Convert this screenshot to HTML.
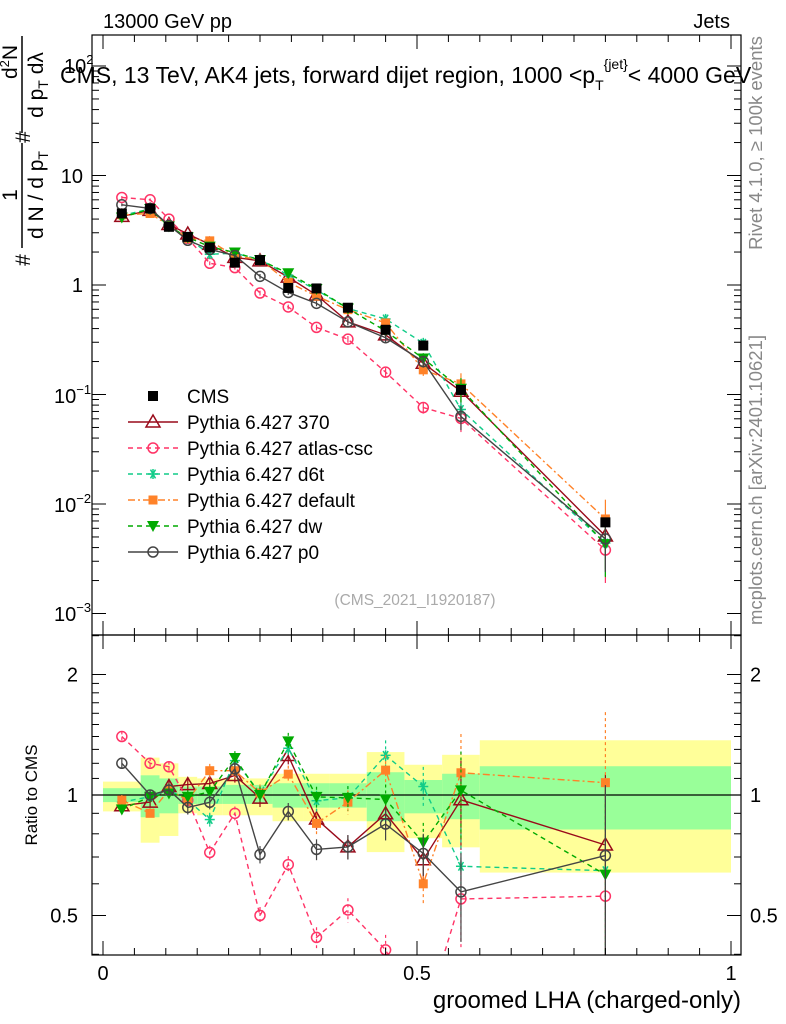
<!DOCTYPE html>
<html><head><meta charset="utf-8"><style>
body{margin:0;background:#fff;}
svg{display:block;font-family:"Liberation Sans",Arial,sans-serif;}
</style></head><body>
<svg id="c" width="786" height="1024" viewBox="0 0 786 1024"></svg>
<script>
const edges=[0,0.06,0.09,0.12,0.15,0.19,0.23,0.27,0.32,0.36,0.42,0.48,0.54,0.6,1.0];
const cms=[4.5,5.0,3.4,2.75,2.2,1.6,1.69,0.94,0.93,0.62,0.39,0.28,0.11,0.0068];
const p370=[4.23,4.8,3.57,2.92,2.35,1.79,1.66,1.18,0.81,0.46,0.35,0.193,0.107,0.0051];
const atlas=[6.3,6.0,4.0,2.67,1.58,1.44,0.845,0.63,0.41,0.32,0.16,0.076,0.0605,0.0038];
const d6t=[4.32,4.95,3.5,2.67,1.91,1.95,1.71,1.23,0.90,0.61,0.49,0.294,0.073,0.0044];
const deflt=[4.37,4.5,3.5,2.67,2.53,1.84,1.71,1.06,0.79,0.595,0.45,0.168,0.125,0.0073];
const dw=[4.14,4.95,3.43,2.72,2.24,1.98,1.69,1.28,0.92,0.61,0.38,0.213,0.113,0.0043];
const p0=[5.4,5.0,3.5,2.56,2.11,1.86,1.2,0.855,0.68,0.46,0.33,0.2,0.063,0.0048];
const mcErr=[0.03,0.03,0.03,0.04,0.04,0.04,0.05,0.05,0.06,0.07,0.09,0.12,0.25,0.5];
const totUp=[1.08,1.24,1.20,1.11,1.10,1.10,1.10,1.13,1.13,1.13,1.28,1.19,1.26,1.37];
const totDn=[0.91,0.76,0.79,0.90,0.89,0.89,0.89,0.86,0.86,0.86,0.72,0.78,0.74,0.64];
const statUp=[1.04,1.12,1.10,1.05,1.05,1.06,1.06,1.07,1.07,1.07,1.14,1.09,1.13,1.18];
const statDn=[0.96,0.88,0.90,0.95,0.95,0.95,0.95,0.93,0.93,0.93,0.86,0.90,0.87,0.82];

const S=document.getElementById('c');const NS='http://www.w3.org/2000/svg';
function mk(t,a,p){const e=document.createElementNS(NS,t);for(const k in a)e.setAttribute(k,a[k]);(p||S).appendChild(e);return e;}
const L=92,R=741,T=35,M=635,B=955;
const X=v=>103+628*v;
const Y=v=>285-109.5*Math.log10(v);
const YR=r=>795-120.5*Math.log2(r);
const clipR=mk('clipPath',{id:'cr'});mk('rect',{x:L,y:M,width:R-L,height:B-M},clipR);
const clipM=mk('clipPath',{id:'cm'});mk('rect',{x:L,y:T,width:R-L,height:M-T},clipM);
const mids=cms.map((_,i)=>(edges[i]+edges[i+1])/2);

const gB=mk('g',{'clip-path':'url(#cr)'});

for(let i=0;i<cms.length;i++){
 const r1=mk('rect',{x:X(edges[i]),y:YR(totUp[i]),width:X(edges[i+1])-X(edges[i]),height:YR(totDn[i])-YR(totUp[i]),fill:'#ffff99'},gB);
 
 const r2=mk('rect',{x:X(edges[i]),y:YR(statUp[i]),width:X(edges[i+1])-X(edges[i]),height:YR(statDn[i])-YR(statUp[i]),fill:'#99ff99'},gB);
 
}
mk('line',{x1:L,x2:R,y1:YR(1),y2:YR(1),stroke:'#000','stroke-width':1.2});

function marker(g,type,x,y,col){
 if(type==='sq')mk('rect',{x:x-5,y:y-5,width:10,height:10,fill:col},g);
 else if(type==='fsq')mk('rect',{x:x-4.5,y:y-4.5,width:9,height:9,fill:col},g);
 else if(type==='tri')mk('polygon',{points:`${x},${y-7} ${x-7},${y+5} ${x+7},${y+5}`,fill:'none',stroke:col,'stroke-width':1.5},g);
 else if(type==='tdn')mk('polygon',{points:`${x-6},${y-5} ${x+6},${y-5} ${x},${y+6}`,fill:col},g);
 else if(type==='circ')mk('circle',{cx:x,cy:y,r:5,fill:'none',stroke:col,'stroke-width':1.5},g);
 else if(type==='star'){for(const a of [0,60,120])mk('line',{x1:x-5*Math.cos(a*Math.PI/180),y1:y-5*Math.sin(a*Math.PI/180),x2:x+5*Math.cos(a*Math.PI/180),y2:y+5*Math.sin(a*Math.PI/180),stroke:col,'stroke-width':1.5},g);mk('line',{x1:x,y1:y-5,x2:x,y2:y+5,stroke:col,'stroke-width':1.5},g);}
}
const series=[
 {name:'pythia-370',label:'Pythia 6.427 370',d:p370,col:'#990a1a',dash:'',m:'tri'},
 {name:'pythia-atlas-csc',label:'Pythia 6.427 atlas-csc',d:atlas,col:'#ff3366',dash:'5,4',m:'circ'},
 {name:'pythia-d6t',label:'Pythia 6.427 d6t',d:d6t,col:'#11cc88',dash:'5,4',m:'star'},
 {name:'pythia-default',label:'Pythia 6.427 default',d:deflt,col:'#ff8228',dash:'7,3,2,3',m:'fsq'},
 {name:'pythia-dw',label:'Pythia 6.427 dw',d:dw,col:'#00aa00',dash:'5,4',m:'tdn'},
 {name:'pythia-p0',label:'Pythia 6.427 p0',d:p0,col:'#444444',dash:'',m:'circ'}
];
const gm=mk('g',{'clip-path':'url(#cm)'});
series.forEach(s=>{
 const g=mk('g',{},gm);
 
 mk('polyline',{points:s.d.map((v,i)=>X(mids[i])+','+Y(v)).join(' '),fill:'none',stroke:s.col,'stroke-width':1.4,'stroke-dasharray':s.dash},g);
 s.d.forEach((v,i)=>{mk('line',{x1:X(mids[i]),x2:X(mids[i]),y1:Y(v*(1+mcErr[i])),y2:Y(v*Math.max(0.05,1-mcErr[i])),stroke:s.col,'stroke-width':1.2},g);marker(g,s.m,X(mids[i]),Y(v),s.col);});
});
const gc=mk('g',{},gm);

cms.forEach((v,i)=>marker(gc,'sq',X(mids[i]),Y(v),'#000'));
const gr=mk('g',{'clip-path':'url(#cr)'});
series.forEach(s=>{
 const g=mk('g',{},gr);
 
 const rr=s.d.map((v,i)=>v/cms[i]);
 mk('polyline',{points:rr.map((r,i)=>X(mids[i])+','+YR(r)).join(' '),fill:'none',stroke:s.col,'stroke-width':1.4,'stroke-dasharray':s.dash},g);
 rr.forEach((r,i)=>{mk('line',{x1:X(mids[i]),x2:X(mids[i]),y1:YR(r*(1+mcErr[i])),y2:YR(r*Math.max(0.05,1-mcErr[i])),stroke:s.col,'stroke-width':1.2,'stroke-dasharray':s.dash?'3,3':''},g);marker(g,s.m,X(mids[i]),YR(r),s.col);});
});
mk('rect',{x:L,y:T,width:R-L,height:M-T,fill:'none',stroke:'#000','stroke-width':1.2});
mk('rect',{x:L,y:M,width:R-L,height:B-M,fill:'none',stroke:'#000','stroke-width':1.2});
for(let e=-3;e<=2;e++){for(let k=1;k<10;k++){const v=k*Math.pow(10,e);const y=Y(v);if(y<T||y>M)continue;const len=k===1?14:7;
 mk('line',{x1:L,x2:L+len,y1:y,y2:y,stroke:'#000'});mk('line',{x1:R,x2:R-len,y1:y,y2:y,stroke:'#000'});}}
function tl(txt,x,y,anchor,size,name,extra,parent){const t=mk('text',Object.assign({x:x,y:y,'text-anchor':anchor||'start','font-size':size||18},extra||{}),parent);t.innerHTML=txt;return t;}
tl('10<tspan font-size="13" dy="-9">2</tspan>',64,73,'start',20,'y-tick-label');
tl('10',83,183,'end',20,'y-tick-label');
tl('1',83,292,'end',20,'y-tick-label');
tl('10<tspan font-size="13" dy="-9">−1</tspan>',54,403,'start',20,'y-tick-label');
tl('10<tspan font-size="13" dy="-9">−2</tspan>',54,512,'start',20,'y-tick-label');
tl('10<tspan font-size="13" dy="-9">−3</tspan>',54,621,'start',20,'y-tick-label');
for(const r of [0.4,0.5,0.6,0.7,0.8,0.9,1,1.1,1.2,1.3,1.4,1.5,1.6,1.7,1.8,1.9,2,2.5]){const y=YR(r);if(y<M||y>B)continue;const len=[0.5,1,2].includes(r)?14:7;
 mk('line',{x1:L,x2:L+len,y1:y,y2:y,stroke:'#000'});mk('line',{x1:R,x2:R-len,y1:y,y2:y,stroke:'#000'});}
[[2,'2'],[1,'1'],[0.5,'0.5']].forEach(([r,s])=>{tl(s,78,YR(r)+7,'end',20,'ratio-tick-label');tl(s,750,YR(r)+7,'start',20,'ratio-tick-label');});
for(let i=0;i<=20;i++){const v=i*0.05,x=X(v),len=i%10===0?14:7;
 mk('line',{x1:x,x2:x,y1:B,y2:B-len,stroke:'#000'});mk('line',{x1:x,x2:x,y1:M,y2:M+len,stroke:'#000'});mk('line',{x1:x,x2:x,y1:T,y2:T+len,stroke:'#000'});mk('line',{x1:x,x2:x,y1:M,y2:M-len,stroke:'#000'});}
tl('0',X(0),980,'middle',20,'x-tick-label');tl('0.5',X(0.5),980,'middle',20,'x-tick-label');tl('1',X(1),980,'middle',20,'x-tick-label');
tl('groomed LHA (charged-only)',741,1008,'end',24,'x-axis-title');
tl('Ratio to CMS',0,0,'middle',17,'ratio-axis-title',{transform:'translate(37,795) rotate(-90)'});
tl('13000 GeV pp',103,28,'start',20,'energy-label');
tl('Jets',730,28,'end',20,'process-label');
tl('CMS, 13 TeV, AK4 jets, forward dijet region, 1000 &lt;p<tspan font-size="14" dy="7">T</tspan><tspan font-size="14" dy="-21">{jet}</tspan><tspan dy="14">&lt; 4000 GeV</tspan>',60,83,'start',23,'plot-title');
// y axis title (rotated fractions)
const yt=mk('g',{transform:'rotate(-90)'});

tl('#',-260,30,'middle',21,'y-title-hash',{},yt);
tl('1',-195,17,'middle',21,'y-title-numerator',{},yt);
mk('line',{x1:-248,x2:-143,y1:22,y2:22,stroke:'#000','stroke-width':1.5},yt);
tl('d N / d p<tspan font-size="14" dy="5">T</tspan>',-195,43,'middle',21,'y-title-denominator',{},yt);
tl('#',-137,30,'middle',21,'y-title-hash',{},yt);
tl('d<tspan font-size="13" dy="-8">2</tspan><tspan dy="8">N</tspan>',-62,17,'middle',21,'y-title-numerator',{},yt);
mk('line',{x1:-133,x2:-36,y1:22,y2:22,stroke:'#000','stroke-width':1.5},yt);
tl('d p<tspan font-size="14" dy="5">T</tspan><tspan dy="-5"> dλ</tspan>',-85,43,'middle',21,'y-title-denominator',{},yt);
tl('Rivet 4.1.0, ≥ 100k events',0,0,'middle',18.5,'rivet-label',{transform:'translate(762,143) rotate(-90)',fill:'#888'});
tl('mcplots.cern.ch [arXiv:2401.10621]',0,0,'middle',18.5,'mcplots-label',{transform:'translate(762,480) rotate(-90)',fill:'#888'});
tl('(CMS_2021_I1920187)',415,605,'middle',15.5,'analysis-id',{fill:'#aaa'});
const lg=mk('g',{});
const e0=mk('g',{},lg);
marker(e0,'sq',153,396,'#000');
const t0=mk('text',{x:187,y:403,'font-size':19},e0);t0.textContent='CMS';
series.forEach((s,i)=>{const y=422+26*i;const g=mk('g',{},lg);
 
 mk('line',{x1:128,x2:178,y1:y,y2:y,stroke:s.col,'stroke-width':1.4,'stroke-dasharray':s.dash},g);
 marker(g,s.m,153,y,s.col);
 const t=mk('text',{x:187,y:y+7,'font-size':19},g);t.textContent=s.label;});
</script>
</body></html>
